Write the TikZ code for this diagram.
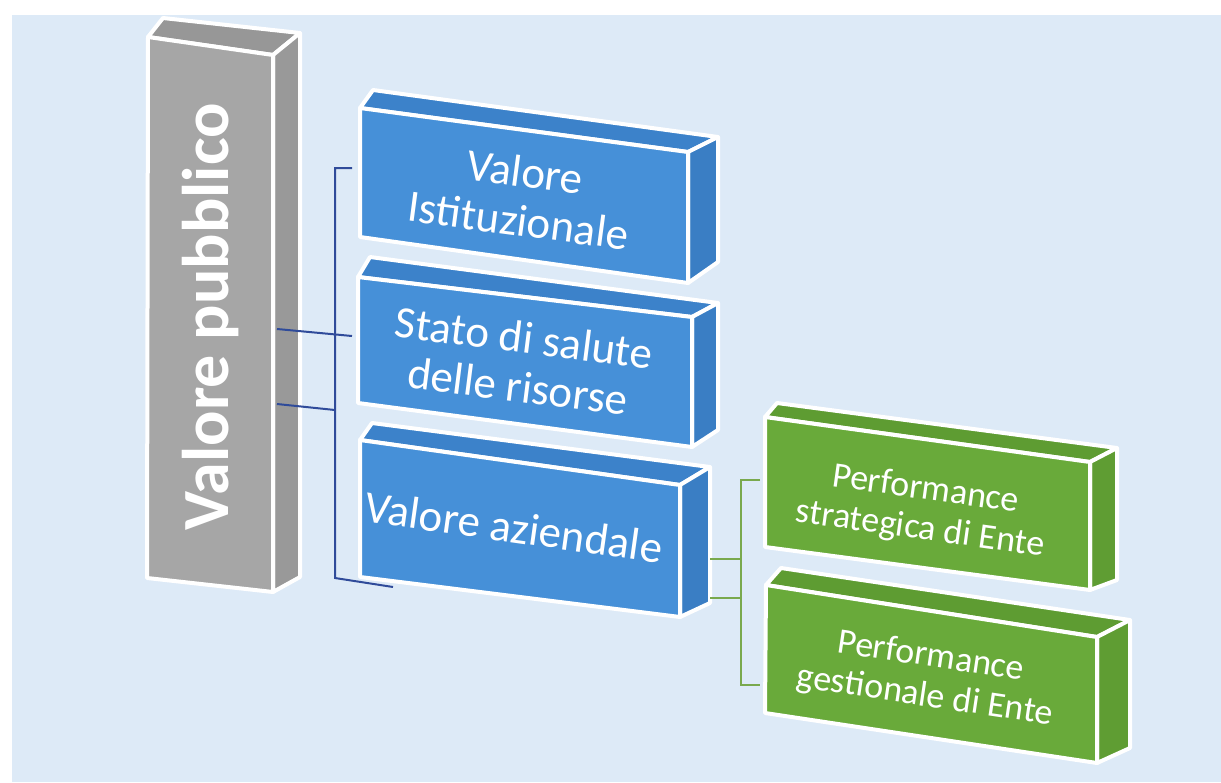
\documentclass[tikz,border=0pt]{standalone}
\usepackage{fontspec}
\setmainfont{Carlito}
\definecolor{bgblue}{HTML}{DDEAF7}
\definecolor{grayfront}{HTML}{A6A6A6}
\definecolor{graytop}{HTML}{979797}
\definecolor{grayside}{HTML}{999999}
\definecolor{bluefront}{HTML}{4690D8}
\definecolor{bluetop}{HTML}{3C82CA}
\definecolor{blueside}{HTML}{3A7EC4}
\definecolor{greenfront}{HTML}{69AA3A}
\definecolor{greentop}{HTML}{5E9C32}
\definecolor{greenside}{HTML}{5F9D33}
\definecolor{navyline}{HTML}{2F4B9A}
\definecolor{greenline}{HTML}{79A94D}
\tikzset{
  face/.style={draw=white, line width=4pt, line join=round},
  bluelink/.style={draw=navyline, line width=2pt},
  greenlink/.style={draw=greenline, line width=2pt},
  graylabel/.style={text=white, font=\fontsize{66}{70}\selectfont\bfseries, rotate=90, inner sep=0pt},
  bluelabel/.style={text=white, font=\fontsize{45}{49}\selectfont, align=center, inner sep=0pt},
  greenlabel/.style={text=white, font=\fontsize{36}{40}\selectfont, align=center, inner sep=0pt}
}
\begin{document}
\begin{tikzpicture}[x=1pt,y=-1pt]
\useasboundingbox (0,0) rectangle (1221,782);
\fill[white] (0,0) rectangle (1221,782);
\fill[bgblue] (12,15) rectangle (1221,782);

% Gray pillar
\path[face, fill=graytop] (148,37) -- (163,18) -- (300,33) -- (273,55) -- cycle;
\path[face, fill=grayside] (273,55) -- (300,33) -- (300,577) -- (273,592) -- cycle;
\path[face, fill=grayfront] (148,37) -- (273,55) -- (273,592) -- (147,578) -- cycle;
\node[graylabel] (vp) at (211,317) {Valore pubblico};

% Blue box 1
\path[face, fill=bluetop] (360,108) -- (373,90) -- (718,137) -- (688,152) -- cycle;
\path[face, fill=blueside] (688,152) -- (718,137) -- (718,262) -- (688,283) -- cycle;
\path[face, fill=bluefront] (360,108) -- (688,152) -- (688,283) -- (360,237) -- cycle;
\node[bluelabel, rotate=-7.6] (vi) at (522,196) {Valore\\Istituzionale};

% Blue box 2
\path[face, fill=bluetop] (358,277) -- (370,257) -- (718,303) -- (692,317) -- cycle;
\path[face, fill=blueside] (692,317) -- (718,303) -- (718,430) -- (692,447) -- cycle;
\path[face, fill=bluefront] (358,277) -- (692,317) -- (692,447) -- (358,403) -- cycle;
\node[bluelabel, rotate=-7.2] (ss) at (521,362) {Stato di salute\\delle risorse};

% Blue box 3
\path[face, fill=bluetop] (360,440) -- (372,423) -- (710,467) -- (680,485) -- cycle;
\path[face, fill=blueside] (680,485) -- (710,467) -- (710,603) -- (680,617) -- cycle;
\path[face, fill=bluefront] (360,440) -- (680,485) -- (680,617) -- (360,577) -- cycle;
\node[bluelabel, rotate=-8] (va) at (514,527) {Valore aziendale};

% Green box 1
\path[face, fill=greentop] (765,417) -- (777,403) -- (1117,448) -- (1090,462) -- cycle;
\path[face, fill=greenside] (1090,462) -- (1117,448) -- (1117,580) -- (1090,590) -- cycle;
\path[face, fill=greenfront] (765,417) -- (1090,462) -- (1090,590) -- (765,547) -- cycle;
\node[greenlabel, rotate=-8] (ps) at (923,510) {Performance\\strategica di Ente};

% Green box 2
\path[face, fill=greentop] (766,585) -- (781,568) -- (1130,620) -- (1097,637) -- cycle;
\path[face, fill=greenside] (1097,637) -- (1130,620) -- (1130,748) -- (1097,763) -- cycle;
\path[face, fill=greenfront] (766,585) -- (1097,637) -- (1097,763) -- (765,713) -- cycle;
\node[greenlabel, rotate=-8.5] (pg) at (928,677) {Performance\\gestionale di Ente};

% Blue connectors
\coordinate (g1) at (277,329);
\coordinate (g2) at (277,404);
\coordinate (bt) at (352,168);
\coordinate (bm) at (352,336);
\coordinate (bb) at (393,587);
\coordinate (bv1) at (335,168);
\coordinate (bv2) at (335,578);
\coordinate (bj) at (335,410);
\draw[bluelink] (bt) -- (bv1) -- (bv2) -- (bb);
\draw[bluelink] (g1) -- (bm);
\draw[bluelink] (g2) -- (bj);

% Green connectors
\coordinate (a1) at (710,559);
\coordinate (a2) at (710,598);
\coordinate (gv1) at (741,480);
\coordinate (gv2) at (741,685);
\coordinate (gt) at (760,480);
\coordinate (gb) at (760,685);
\draw[greenlink] (gt) -- (gv1) -- (gv2) -- (gb);
\draw[greenlink] (a1) -- (a1 -| gv1);
\draw[greenlink] (a2) -- (a2 -| gv1);
\end{tikzpicture}
\end{document}
